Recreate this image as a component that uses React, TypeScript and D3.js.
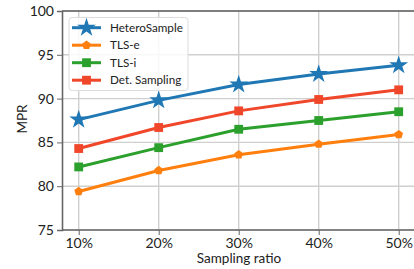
import React, {useRef, useEffect} from "react";
import * as d3 from "d3";

const ratios = ["10%", "20%", "30%", "40%", "50%"];
const yTicks = [75, 80, 85, 90, 95, 100];
const heteroSample = [87.6, 89.8, 91.6, 92.8, 93.8];
const tlsE = [79.4, 81.8, 83.6, 84.8, 85.9];
const tlsI = [82.2, 84.4, 86.5, 87.5, 88.5];
const detSampling = [84.3, 86.7, 88.6, 89.9, 91.0];

const seriesNames = ["HeteroSample", "TLS-e", "TLS-i", "Det. Sampling"];
const seriesValues = [heteroSample, tlsE, tlsI, detSampling];
const seriesColors = ["#1f77b4", "#ff7f0e", "#2ca02c", "#f0462a"];
const seriesMarkers = ["star", "pentagon", "square", "square"];

const FONT = "Lato, 'Open Sans', sans-serif";

const pentagon = (r: number) => {
  const pts = d3.range(5).map(i => {
    const a = -Math.PI / 2 + (i * 2 * Math.PI) / 5;
    return [r * Math.cos(a), r * Math.sin(a)];
  });
  return "M" + pts.map(p => p.join(",")).join("L") + "Z";
};

const markerPath = (kind: string) => {
  if (kind === "star") return d3.symbol(d3.symbolStar, 110)()!;
  if (kind === "square") return d3.symbol(d3.symbolSquare, 78)()!;
  return pentagon(4.6);
};

const App = () => {
  const svgRef = useRef<SVGSVGElement>(null);
  const width = 414;
  const height = 269;

  useEffect(() => {
    const svg = d3.select(svgRef.current);
    svg.selectAll("*").remove();

    const margin = {top: 11, right: 0, bottom: 39, left: 62};

    // x positions of categories, with matplotlib-like 5% padding
    const x = d3.scalePoint<string>()
      .domain(ratios)
      .range([78.7, 398.7]);

    const y = d3.scaleLinear()
      .domain([75, 100])
      .range([height - margin.bottom, margin.top]);

    // grid
    const grid = svg.append("g");
    grid.selectAll("line.gy")
      .data(yTicks)
      .enter()
      .append("line")
      .attr("x1", margin.left)
      .attr("x2", width)
      .attr("y1", d => y(d))
      .attr("y2", d => y(d))
      .attr("stroke", "#cfcfcf")
      .attr("stroke-width", 1.4);
    grid.selectAll("line.gx")
      .data(ratios)
      .enter()
      .append("line")
      .attr("x1", d => x(d)!)
      .attr("x2", d => x(d)!)
      .attr("y1", margin.top)
      .attr("y2", height - margin.bottom)
      .attr("stroke", "#cfcfcf")
      .attr("stroke-width", 1.4);

    // top spine
    svg.append("line")
      .attr("x1", margin.left)
      .attr("x2", width)
      .attr("y1", margin.top)
      .attr("y2", margin.top)
      .attr("stroke", "#222")
      .attr("stroke-width", 1);

    // axes
    const yAxis = svg.append("g")
      .attr("transform", `translate(${margin.left},0)`)
      .call(d3.axisLeft(y).tickValues(yTicks).tickSize(5).tickPadding(3));
    yAxis.select(".domain").attr("stroke", "#666").attr("stroke-width", 1.6);
    yAxis.selectAll(".tick line").attr("stroke", "#666");
    yAxis.selectAll("text")
      .attr("font-family", FONT)
      .attr("font-size", 14)
      .attr("fill", "#222");

    const xAxis = svg.append("g")
      .attr("transform", `translate(0,${height - margin.bottom})`)
      .call(d3.axisBottom(x).tickSize(5).tickPadding(3));
    xAxis.select(".domain")
      .attr("d", `M${margin.left},0H${width}`)
      .attr("stroke", "#666").attr("stroke-width", 1.6);
    xAxis.selectAll(".tick line").attr("stroke", "#666");
    xAxis.selectAll("text")
      .attr("font-family", FONT)
      .attr("font-size", 14)
      .attr("fill", "#222");

    // axis labels
    svg.append("text")
      .attr("x", 239)
      .attr("y", 263)
      .attr("text-anchor", "middle")
      .attr("font-family", FONT)
      .attr("font-size", 13.5)
      .attr("fill", "#222")
      .text("Sampling ratio");
    svg.append("text")
      .attr("transform", `translate(26.5,119) rotate(-90)`)
      .attr("text-anchor", "middle")
      .attr("font-family", FONT)
      .attr("font-size", 13.5)
      .attr("fill", "#222")
      .text("MPR");

    // lines + markers
    const line = d3.line<number>()
      .x((_, i) => x(ratios[i])!)
      .y(d => y(d));

    seriesValues.forEach((vals, k) => {
      const g = svg.append("g");
      g.append("path")
        .datum(vals)
        .attr("d", line)
        .attr("fill", "none")
        .attr("stroke", seriesColors[k])
        .attr("stroke-width", 3);
      g.selectAll("path.m")
        .data(vals)
        .enter()
        .append("path")
        .attr("class", "m")
        .attr("transform", (d, i) => `translate(${x(ratios[i])},${y(d)})`)
        .attr("d", markerPath(seriesMarkers[k]))
        .attr("fill", seriesColors[k]);
    });

    // legend
    const lg = svg.append("g");
    lg.append("rect")
      .attr("x", 69)
      .attr("y", 17.5)
      .attr("width", 119)
      .attr("height", 73)
      .attr("rx", 3)
      .attr("fill", "white")
      .attr("fill-opacity", 0.85)
      .attr("stroke", "#ddd")
      .attr("stroke-width", 1);
    seriesNames.forEach((name, k) => {
      const cy = 27.7 + k * 17.5;
      lg.append("line")
        .attr("x1", 72)
        .attr("x2", 101)
        .attr("y1", cy)
        .attr("y2", cy)
        .attr("stroke", seriesColors[k])
        .attr("stroke-width", 3);
      lg.append("path")
        .attr("transform", `translate(86.5,${cy})`)
        .attr("d", markerPath(seriesMarkers[k]))
        .attr("fill", seriesColors[k]);
      lg.append("text")
        .attr("x", 110)
        .attr("y", cy + 4.2)
        .attr("font-family", FONT)
        .attr("font-size", 11.7)
        .attr("fill", "#222")
        .text(name);
    });
  }, []);

  return (
    <svg ref={svgRef} width={width} height={height}
      style={{position: "absolute", left: 0, top: 0}}>
    </svg>
  );
};

export default App;
